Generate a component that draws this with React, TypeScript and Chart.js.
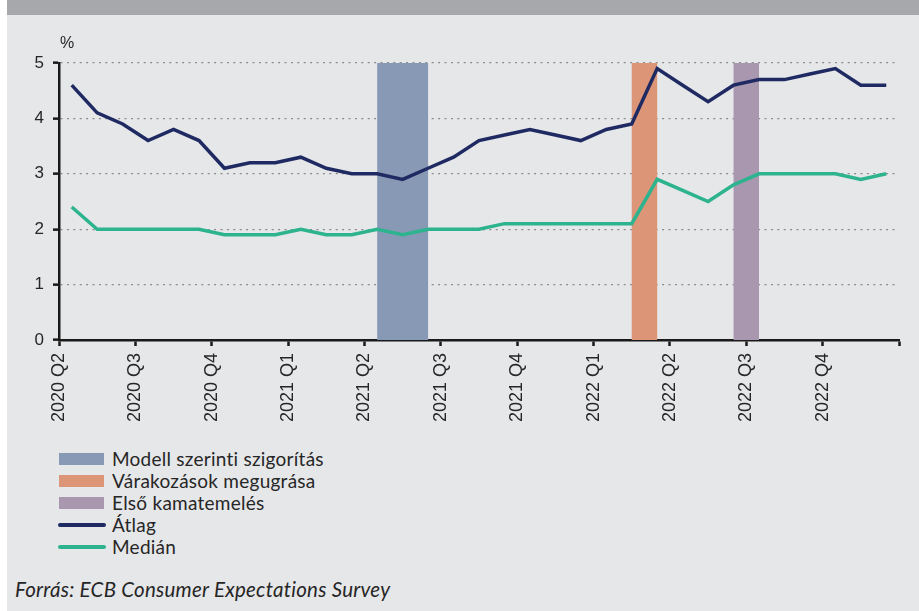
import React, { useEffect, useRef } from 'react';
import { Chart, registerables } from 'chart.js';

Chart.register(...registerables);

// Monthly observations, April 2020 – December 2022
const months = [
  '2020-04', '2020-05', '2020-06', '2020-07', '2020-08', '2020-09', '2020-10', '2020-11', '2020-12',
  '2021-01', '2021-02', '2021-03', '2021-04', '2021-05', '2021-06', '2021-07', '2021-08', '2021-09',
  '2021-10', '2021-11', '2021-12', '2022-01', '2022-02', '2022-03', '2022-04', '2022-05', '2022-06',
  '2022-07', '2022-08', '2022-09', '2022-10', '2022-11', '2022-12',
];

const atlag = [
  4.6, 4.1, 3.9, 3.6, 3.8, 3.6, 3.1, 3.2, 3.2, 3.3, 3.1, 3.0, 3.0, 2.9, 3.1, 3.3, 3.6,
  3.7, 3.8, 3.7, 3.6, 3.8, 3.9, 4.9, 4.6, 4.3, 4.6, 4.7, 4.7, 4.8, 4.9, 4.6, 4.6,
];

const median = [
  2.4, 2.0, 2.0, 2.0, 2.0, 2.0, 1.9, 1.9, 1.9, 2.0, 1.9, 1.9, 2.0, 1.9, 2.0, 2.0, 2.0,
  2.1, 2.1, 2.1, 2.1, 2.1, 2.1, 2.9, 2.7, 2.5, 2.8, 3.0, 3.0, 3.0, 3.0, 2.9, 3.0,
];

// Quarter tick labels (ticks sit at quarter boundaries)
const quarterLabels = [
  '2020 Q2', '2020 Q3', '2020 Q4', '2021 Q1', '2021 Q2', '2021 Q3',
  '2021 Q4', '2022 Q1', '2022 Q2', '2022 Q3', '2022 Q4',
];

// Shaded periods (in month-index units on the x axis)
const bandLabels = ['Modell szerinti szigorítás', 'Várakozások megugrása', 'Első kamatemelés'];
const bandFrom = [12, 22, 26];
const bandTo = [14, 23, 27];
const bandTop = [5, 5, 5];

const seriesLabels = ['Átlag', 'Medián'];

const yTicks = [0, 1, 2, 3, 4, 5];

const COLORS = {
  bands: ['#8899b6', '#dc9677', '#a997b0'],
  atlag: '#1f2a63',
  median: '#2db38e',
  panel: '#e6e7e9',
  banner: '#a7a8ab',
  axis: '#1a1a1a',
  grid: '#8a8a8a',
  text: '#262626',
};

const bandsPlugin = {
  id: 'bands',
  beforeDatasetsDraw(chart: any) {
    const { ctx, scales } = chart;
    const x = scales.x;
    const y = scales.y;
    ctx.save();
    bandFrom.forEach((from, i) => {
      const x1 = x.getPixelForValue(from);
      const x2 = x.getPixelForValue(bandTo[i]);
      const y1 = y.getPixelForValue(bandTop[i]);
      const y2 = y.getPixelForValue(0);
      ctx.fillStyle = COLORS.bands[i];
      ctx.fillRect(x1, y1, x2 - x1, y2 - y1);
    });
    ctx.restore();
  },
};

function ChartCanvas() {
  const ref = useRef<HTMLCanvasElement>(null);
  useEffect(() => {
    if (!ref.current) return;
    const family = '"Liberation Sans", Arial, sans-serif';
    const chart = new Chart(ref.current, {
      type: 'line',
      data: {
        datasets: [
          {
            label: seriesLabels[0],
            data: atlag.map((v, i) => ({ x: i, y: v })),
            borderColor: COLORS.atlag,
            borderWidth: 3.5,
            pointRadius: 0,
            tension: 0,
            fill: false,
          },
          {
            label: seriesLabels[1],
            data: median.map((v, i) => ({ x: i, y: v })),
            borderColor: COLORS.median,
            borderWidth: 3.5,
            pointRadius: 0,
            tension: 0,
            fill: false,
          },
        ],
      },
      options: {
        animation: false,
        responsive: false,
        maintainAspectRatio: false,
        devicePixelRatio: 1,
        layout: { padding: { top: 48, right: 20, left: 0, bottom: 0 } },
        plugins: {
          legend: { display: false },
          tooltip: { enabled: false },
          title: { display: false },
        },
        scales: {
          x: {
            type: 'linear',
            min: -0.5,
            max: months.length - 0.5,
            z: 1,
            afterBuildTicks: (axis: any) => {
              const t = [];
              for (let k = 0; k <= quarterLabels.length; k++) t.push({ value: 3 * k - 0.5 });
              axis.ticks = t;
            },
            afterFit: (scale: any) => {
              scale.height = 95;
              scale.paddingLeft = 0;
              scale.paddingRight = 0;
            },
            ticks: {
              autoSkip: false,
              minRotation: 90,
              maxRotation: 90,
              padding: 7,
              color: COLORS.text,
              font: { family, size: 18 },
              callback: (_v: any, index: number) => quarterLabels[index] ?? '',
            },
            grid: {
              drawOnChartArea: false,
              drawTicks: true,
              tickLength: 6,
              tickColor: COLORS.axis,
              tickWidth: 2.5,
            },
            border: { display: true, color: COLORS.axis, width: 2.5 },
          },
          y: {
            type: 'linear',
            min: 0,
            max: 5,
            afterBuildTicks: (axis: any) => {
              axis.ticks = yTicks.map((v) => ({ value: v }));
            },
            afterFit: (scale: any) => {
              scale.width = 52;
            },
            ticks: {
              padding: 9,
              color: COLORS.text,
              font: { family, size: 17 },
              callback: (v: any) => String(v),
            },
            grid: {
              drawOnChartArea: true,
              color: COLORS.grid,
              lineWidth: 1.3,
              tickLength: 6,
              tickColor: COLORS.axis,
              tickWidth: 2.5,
            },
            border: { display: true, color: COLORS.axis, width: 2.5, dash: [2, 4.4] },
          },
        },
      } as any,
      plugins: [bandsPlugin],
    });
    return () => chart.destroy();
  }, []);
  return <canvas ref={ref} width={912} height={420} style={{ display: 'block', width: 912, height: 420 }} />;
}

export default function App() {
  const legendFont = 'Lato, "Open Sans", sans-serif';
  const legendItems = [
    ...bandLabels.map((label, i) => ({ label, kind: 'box', color: COLORS.bands[i] })),
    { label: seriesLabels[0], kind: 'line', color: COLORS.atlag },
    { label: seriesLabels[1], kind: 'line', color: COLORS.median },
  ];
  return (
    <div
      style={{
        position: 'fixed',
        left: 7,
        top: 0,
        width: 912,
        height: 611,
        background: COLORS.panel,
        overflow: 'hidden',
        fontFamily: legendFont,
        color: COLORS.text,
      }}
    >
      <div style={{ position: 'absolute', left: 0, top: 0, width: '100%', height: 15, background: COLORS.banner }} />
      <div style={{ position: 'absolute', left: 0, top: 15, width: 912, height: 420 }}>
        <ChartCanvas />
      </div>
      <div
        style={{
          position: 'absolute',
          left: 53,
          top: 33,
          fontFamily: '"Liberation Sans", Arial, sans-serif',
          fontSize: 16,
          lineHeight: '20px',
          color: COLORS.text,
        }}
      >
        %
      </div>
      <div style={{ position: 'absolute', left: 50, top: 448 }}>
        {legendItems.map((it) => (
          <div key={it.label} style={{ display: 'flex', alignItems: 'center', height: 22 }}>
            <div style={{ width: 52, display: 'flex', alignItems: 'center' }}>
              {it.kind === 'box' ? (
                <div style={{ marginLeft: 2, width: 45, height: 12, background: it.color }} />
              ) : (
                <div style={{ marginLeft: 1, width: 48, height: 4, borderRadius: 2, background: it.color }} />
              )}
            </div>
            <span style={{ marginLeft: 3, fontSize: 19, letterSpacing: 0.25, lineHeight: '22px', whiteSpace: 'nowrap' }}>
              {it.label}
            </span>
          </div>
        ))}
      </div>
      <div
        style={{
          position: 'absolute',
          left: 8,
          top: 577,
          fontSize: 20.5,
          letterSpacing: 0.25,
          lineHeight: '24px',
          fontStyle: 'italic',
          whiteSpace: 'nowrap',
        }}
      >
        Forrás: ECB Consumer Expectations Survey
      </div>
    </div>
  );
}
